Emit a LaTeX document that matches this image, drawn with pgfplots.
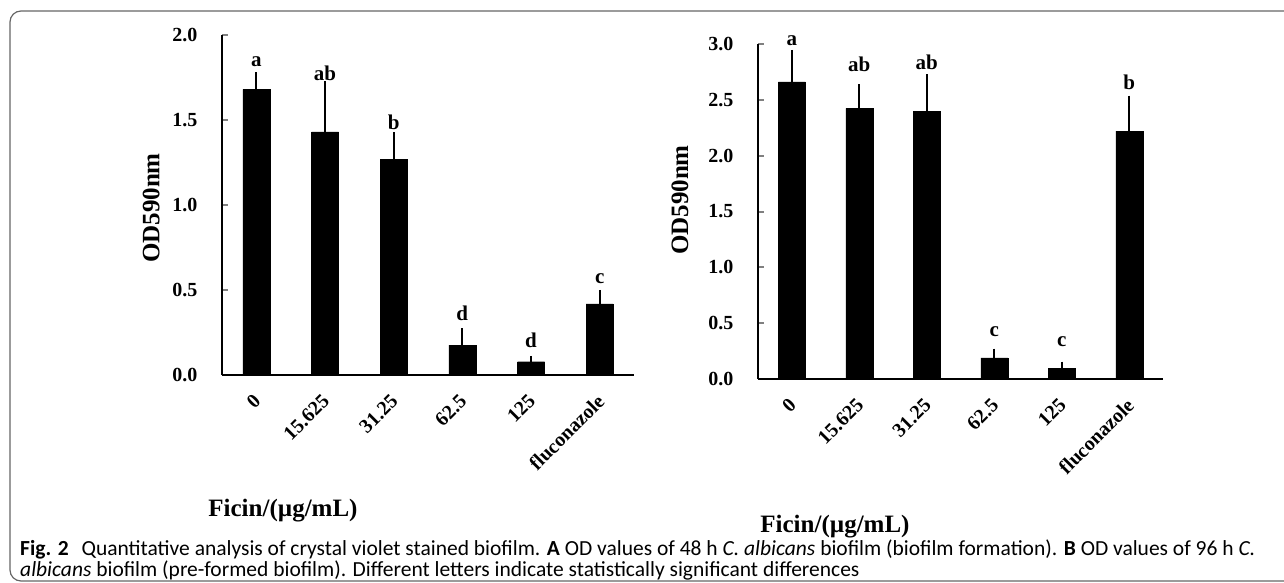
\documentclass[border=0pt]{standalone}
\usepackage{fontspec}
\setmainfont{Liberation Serif}
\newfontfamily\capfont{Carlito}
\usepackage{pgfplots}
\usepackage{pgfplotstable}
\pgfplotsset{compat=1.18}

% bar values and upper error (48 h)
\pgfplotstableread{
x y err
0 1.680 0.080
1 1.430 0.276
2 1.270 0.136
3 0.176 0.079
4 0.078 0.014
5 0.418 0.062
}\dataA
% bar values and upper error (96 h)
\pgfplotstableread{
x y err
0 2.660 0.256
1 2.423 0.187
2 2.400 0.300
3 0.190 0.050
4 0.096 0.029
5 2.220 0.287
}\dataB
% significance letters
\pgfplotstableread{
x ly lab
0 1.843 a
1 1.776 ab
2 1.488 b
3 0.365 d
4 0.206 d
5 0.565 c
}\letA
\pgfplotstableread{
x ly lab
0 3.030 a
1 2.817 ab
2 2.840 ab
3 0.423 c
4 0.334 c
5 2.660 b
}\letB

\pgfplotsset{
  odbar/.style={
    scale only axis, anchor=south west, clip=false,
    xmin=-0.5, xmax=5.5, ymin=0,
    axis lines*=left,
    axis line style={line width=2pt},
    xtick={0,...,5},
    xticklabels={0,15.625,31.25,62.5,125,fluconazole},
    xtick style={draw=none},
    ytick style={line width=2pt},
    tick align=inside, major tick length=6pt,
    /pgf/number format/assume math mode=true,
    ticklabel style={font=\bfseries\fontsize{20}{21}\selectfont},
    yticklabel style={/pgf/number format/.cd, fixed, fixed zerofill, precision=1, /tikz/.cd, xshift=-21pt},
    xticklabel style={xshift=-4pt, yshift=-18pt, rotate=45, anchor=north east, inner sep=0pt},
    label style={font=\bfseries\fontsize{25}{27}\selectfont},
    xlabel={Ficin/(µg/mL)},
    ylabel={OD590nm},
  },
  barstyle/.style={
    ybar, bar width=27pt, fill=black, draw=black,
    error bars/.cd, y dir=plus, y explicit, error mark=-,
    error bar style={line width=2pt, black},
    error mark options={line width=2pt, mark size=3.5pt, black},
  },
  letstyle/.style={
    draw=none, mark=none,
    nodes near coords, point meta=explicit symbolic,
    every node near coord/.style={anchor=center, inner sep=0pt,
      font=\bfseries\fontsize{21}{21}\selectfont},
  },
}

\begin{document}
\begin{tikzpicture}[x=1pt,y=1pt]
\useasboundingbox (0,0) rectangle (1284,582);
\draw[gray!80!black, line width=1.2pt, rounded corners=11pt] (1300,571) -- (10,571) -- (10,1) -- (1300,1);

\begin{axis}[odbar, at={(222pt,207pt)}, width=412pt, height=340pt, ymax=2,
  ytick={0,0.5,...,2},
  xlabel style={at={(axis description cs:0.148,-0.4)}, anchor=center},
  ylabel style={at={(axis description cs:-0.172,0.491)}, anchor=center}]
\addplot[barstyle] table[x=x, y=y, y error=err]{\dataA};
\addplot[letstyle] table[x=x, y=ly, meta=lab]{\letA};
\end{axis}

\begin{axis}[odbar, at={(758pt,203pt)}, width=405pt, height=335pt, ymax=3,
  ytick={0,0.5,...,3},
  xlabel style={at={(axis description cs:0.19,-0.442)}, anchor=center},
  ylabel style={at={(axis description cs:-0.193,0.534)}, anchor=center}]
\addplot[barstyle] table[x=x, y=y, y error=err]{\dataB};
\addplot[letstyle] table[x=x, y=ly, meta=lab]{\letB};
\end{axis}

\node[anchor=base west, inner sep=0pt, font=\capfont\fontsize{21.5}{24}\selectfont] at (20,27)
  {\textbf{Fig. 2}\hspace{0.6em}Quantitative analysis of crystal violet stained biofilm. \textbf{A} OD values of 48 h \textit{C. albicans} biofilm (biofilm formation). \textbf{B} OD values of 96 h \textit{C.}};
\node[anchor=base west, inner sep=0pt, font=\capfont\fontsize{21.5}{24}\selectfont] at (20,6)
  {\textit{albicans} biofilm (pre-formed biofilm). Different letters indicate statistically significant differences};
\end{tikzpicture}
\end{document}
